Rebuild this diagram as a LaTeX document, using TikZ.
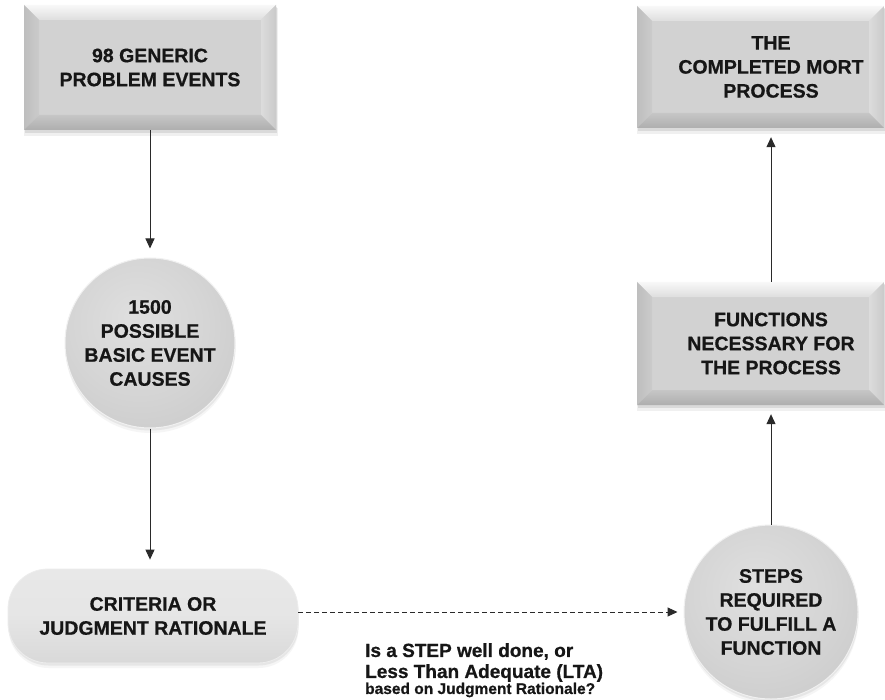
\documentclass[tikz,border=0pt]{standalone}
\usepackage{fontspec}
\setmainfont{Liberation Sans}[BoldFeatures={FakeBold=0.7}]
\usetikzlibrary{arrows.meta,shadows}

\definecolor{inkdark}{HTML}{161616}
\definecolor{linegray}{HTML}{2A2A2A}
\definecolor{facegray}{HTML}{D2D2D2}
\definecolor{bevtopA}{HTML}{F8F8F8}
\definecolor{bevtopB}{HTML}{DEDEDE}
\definecolor{bevleftA}{HTML}{BEBEBE}
\definecolor{bevleftB}{HTML}{CBCBCB}
\definecolor{bevrightA}{HTML}{DCDCDC}
\definecolor{bevrightB}{HTML}{CACACA}
\definecolor{bevbotA}{HTML}{C6C6C6}
\definecolor{bevbotB}{HTML}{AEAEAE}
\definecolor{discA}{HTML}{DFDFDF}
\definecolor{discB}{HTML}{D5D5D5}
\definecolor{discC}{HTML}{C6C6C6}
\definecolor{discD}{HTML}{ABABAB}

% soft radial shading for the round badges, highlight slightly up-left
\pgfdeclareradialshading{discshade}{\pgfpoint{-5bp}{8bp}}{%
  color(0bp)=(discA); color(20bp)=(discB); color(42bp)=(discC); color(60bp)=(discD)}

% bevelled rectangle: #1,#2 = top-left corner, #3,#4 = bottom-right corner
\newcommand{\bevelbox}[4]{%
  \fill[black,opacity=0.06] ({#1},{#2+3}) rectangle ({#3+2},{#4+6});
  \fill[black,opacity=0.09] ({#1+1},{#2+2}) rectangle ({#3+1},{#4+3});
  \fill[facegray] ({#1+15},{#2+15}) rectangle ({#3-15},{#4-15});
  \shade[top color=bevtopA, bottom color=bevtopB]
    (#1,#2) -- (#3,#2) -- ({#3-15},{#2+15}) -- ({#1+15},{#2+15}) -- cycle;
  \shade[left color=bevleftA, right color=bevleftB]
    (#1,#2) -- ({#1+15},{#2+15}) -- ({#1+15},{#4-15}) -- (#1,#4) -- cycle;
  \shade[left color=bevrightA, right color=bevrightB]
    (#3,#2) -- (#3,#4) -- ({#3-15},{#4-15}) -- ({#3-15},{#2+15}) -- cycle;
  \shade[top color=bevbotA, bottom color=bevbotB]
    (#1,#4) -- ({#1+15},{#4-15}) -- ({#3-15},{#4-15}) -- (#3,#4) -- cycle;
}

\tikzset{
  boxlabel/.style={align=center, text=inkdark, inner sep=0pt,
    font=\bfseries\fontsize{19.5}{24}\selectfont},
  disc/.style={boxlabel, circle, shading=discshade, draw=white!88!gray,
    line width=1pt,
    drop shadow={opacity=0.08, shadow xshift=0.5pt, shadow yshift=-5pt},
    drop shadow={opacity=0.12, shadow xshift=0.5pt, shadow yshift=-2.5pt}},
  pill/.style={boxlabel, rectangle, rounded corners=40pt,
    top color=white!82!gray, bottom color=white!70!gray, middle color=white!80!gray,
    draw=white!86!gray, line width=0.8pt,
    drop shadow={opacity=0.08, shadow xshift=0.5pt, shadow yshift=-5pt},
    drop shadow={opacity=0.12, shadow xshift=0.5pt, shadow yshift=-2.5pt}},
  conn/.style={draw=linegray, line width=1pt,
    -{Triangle[length=10pt,width=9pt]}, shorten >=9pt},
  dashconn/.style={conn, dash pattern=on 5pt off 3pt, shorten >=6pt}
}

\begin{document}
\begin{tikzpicture}[x=1pt,y=-1pt]
\useasboundingbox (0,0) rectangle (885,700);
\fill[white] (0,0) rectangle (885,700);

% bevelled boxes
\bevelbox{24}{5}{276}{130}
\bevelbox{637}{6}{884}{128}
\bevelbox{637}{282}{884}{405}

% labels of the bevelled boxes
\node[boxlabel, minimum width=252pt, minimum height=125pt] (generic) at (150,67.5)
  {98 GENERIC\\PROBLEM EVENTS};
\node[boxlabel, minimum width=220pt, minimum height=122pt] (mort) at (771,67)
  {THE\\COMPLETED MORT\\PROCESS};
\node[boxlabel, minimum width=220pt, minimum height=123pt] (functions) at (771,343.5)
  {FUNCTIONS\\NECESSARY FOR\\THE PROCESS};

% round badges and the pill
\node[disc, minimum size=170pt] (causes) at (150,343)
  {1500\\POSSIBLE\\BASIC EVENT\\CAUSES};
\node[disc, minimum size=174pt] (steps) at (771,612)
  {STEPS\\REQUIRED\\TO FULFILL A\\FUNCTION};
\node[pill, minimum width=290pt, minimum height=94pt] (criteria) at (153,616)
  {CRITERIA OR\\JUDGMENT RATIONALE};

% question under the dashed connector
\node[anchor=north west, align=left, inner sep=0pt, text=inkdark,
      font=\bfseries\fontsize{19}{21}\selectfont] (question) at (365,643)
  {Is a STEP well done, or\\Less Than Adequate (LTA)\\[-5pt]
   {\fontsize{15.5}{16}\selectfont based on Judgment Rationale?}};

% connectors
\draw[conn] (generic.south) -- (causes.north);
\draw[conn] (causes.south) -- (criteria.north -| causes.south);
\draw[dashconn] (criteria.east |- steps.west) -- (steps.west);
\draw[conn] (steps.north) -- (functions.south);
\draw[conn] (functions.north) -- (mort.south);
\end{tikzpicture}
\end{document}
